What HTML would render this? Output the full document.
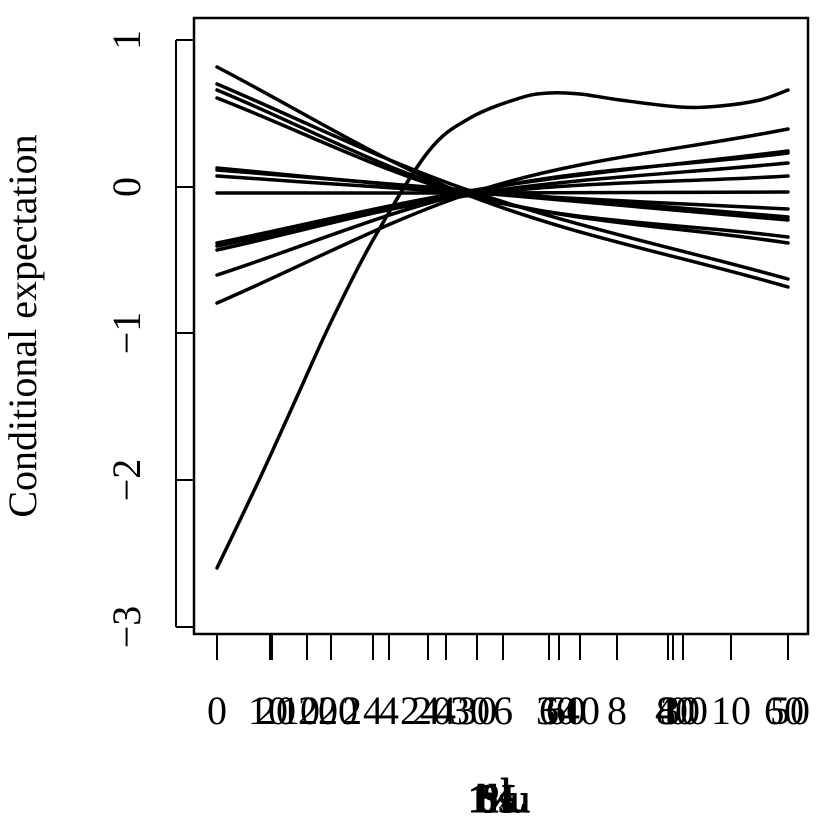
<!DOCTYPE html>
<html><head><meta charset="utf-8"><style>
html,body{margin:0;padding:0;background:#fff;width:830px;height:830px;overflow:hidden}
svg text{font-family:"Liberation Serif",serif;fill:#000}
</style></head><body>
<svg id="s" width="830" height="830" xmlns="http://www.w3.org/2000/svg">
<rect x="194" y="18" width="614" height="616" fill="none" stroke="#000" stroke-width="2.5"/>
<g stroke="#000" stroke-width="2" id="yt">
<line x1="176" y1="40" x2="194" y2="40"/><line x1="176" y1="187" x2="194" y2="187"/>
<line x1="176" y1="333" x2="194" y2="333"/><line x1="176" y1="480" x2="194" y2="480"/>
<line x1="176" y1="627" x2="194" y2="627"/><line x1="176" y1="40" x2="176" y2="627"/>
</g>
<g font-size="40" text-anchor="middle">
<text transform="translate(140,40) rotate(-90)">1</text>
<text transform="translate(140,187) rotate(-90)">0</text>
<text transform="translate(140,333) rotate(-90)">−1</text>
<text transform="translate(140,480) rotate(-90)">−2</text>
<text transform="translate(140,627) rotate(-90)">−3</text>
<text transform="translate(36,326) rotate(-90)">Conditional expectation</text>
</g>
<g id="xt" stroke="#000" stroke-width="2"></g>
<g id="xl" font-size="40" text-anchor="middle"></g>
<g font-size="40" text-anchor="middle" stroke="#000" stroke-width="1">
<text x="478" y="812">1</text><text x="488" y="812">b</text><text x="500" y="812">%</text><text x="514" y="812">L</text><text x="496" y="812">ds</text><text x="520" y="812">u</text><text x="506" y="806">l</text><text x="486" y="812">6</text>
</g>
<g id="curves" fill="none" stroke="#000" stroke-width="3.5" stroke-linecap="round"></g>
</svg>
<script>
var NS="http://www.w3.org/2000/svg";
function el(t,a,p){var e=document.createElementNS(NS,t);for(var k in a)e.setAttribute(k,a[k]);document.getElementById(p).appendChild(e);return e;}
var ticks=[217,270,272,307,331,373,389,428,446,477,503,549,559,580,617,668,673,683,731,788];
ticks.forEach(function(x){el("line",{x1:x,y1:634,x2:x,y2:660},"xt");});
var labs=[[217,"0"],[268,"10"],[276,"20"],[300,"10"],[318,"20"],[338,"20"],[352,"2"],[373,"4"],[389,"4"],[420,"24"],[432,"20"],[446,"4"],[470,"30"],[477,"30"],[503,"6"],[549,"6"],[556,"30"],[566,"60"],[580,"40"],[617,"8"],[666,"8"],[675,"40"],[680,"30"],[688,"00"],[731,"10"],[784,"60"],[790,"50"]];
labs.forEach(function(l){var t=el("text",{x:l[0],y:724},"xl");t.textContent=l[1];});
var pairs=[[67,287,455,190],[84,279,462,188],[90,243,468,194],[98,237,470,196],[168,220,470,192],[170,217,465,190],[176,209,470,193],[193,192,470,193],[243,151,475,190],[246,163,470,194],[250,176,465,196],[275,153,472,192],[303,129,480,190]];
pairs.forEach(function(p){
 var y0=p[0],y1=p[1],mx=p[2],my=p[3];var s1=(my-y0)/(mx-217),s2=(y1-my)/(788-mx),sm=(s1+s2)/2;
 var a=(mx-217)/3,b=(788-mx)/3;
 var d="M217 "+y0+" C"+(217+a)+" "+(y0+s1*a)+" "+(mx-a)+" "+(my-sm*a)+" "+mx+" "+my+
 " C"+(mx+b)+" "+(my+sm*b)+" "+(788-b)+" "+(y1-s2*b)+" 788 "+y1;
 el("path",{d:d},"curves");
});
var P=[[217,568],[260,478],[300,390],[331,322],[373,240],[428,152],[470,118],[520,98],[549,93],[580,94],[620,100],[680,107],[720,106],[760,100],[788,90]];
var d="M"+P[0][0]+" "+P[0][1];
for(var i=0;i<P.length-1;i++){
 var p0=P[Math.max(0,i-1)],p1=P[i],p2=P[i+1],p3=P[Math.min(P.length-1,i+2)];
 d+=" C"+(p1[0]+(p2[0]-p0[0])/6)+" "+(p1[1]+(p2[1]-p0[1])/6)+" "+(p2[0]-(p3[0]-p1[0])/6)+" "+(p2[1]-(p3[1]-p1[1])/6)+" "+p2[0]+" "+p2[1];
}
el("path",{d:d},"curves");
</script>
</body></html>
